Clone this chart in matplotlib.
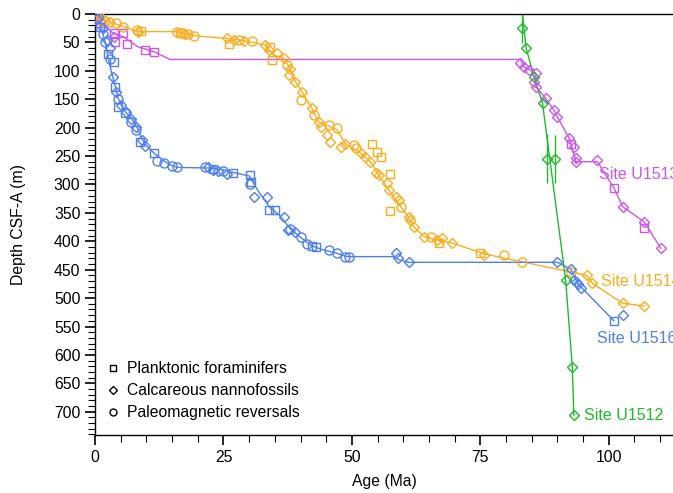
import numpy as np
import matplotlib
matplotlib.use('Agg')
import matplotlib.pyplot as plt
from matplotlib.ticker import MultipleLocator
from matplotlib.lines import Line2D

plt.rcParams['font.family'] = ['Liberation Sans', 'DejaVu Sans']
plt.rcParams['font.size'] = 11.3

# colours per site
c1516 = '#4d7ff2'
c1514 = '#ffac1c'
c1513 = '#cc55ee'
c1512 = '#1fbb2a'

# ---- Site U1516 ----
u1516_line_age = [0, 1, 2, 2.5, 3, 3.5, 4, 4.5, 5.5, 7, 8.2, 9, 10, 11.5, 13, 14.5, 16, 22, 25, 27, 30, 31, 32, 34, 36, 38, 40, 42, 44, 47, 49, 58, 59, 61, 90, 92.6, 94, 101]
u1516_line_depth = [0, 20, 50, 75, 95, 112, 130, 148, 168, 183, 200, 218, 232, 245, 256, 265, 270, 271, 274, 279, 285, 300, 315, 340, 355, 378, 393, 407, 414, 421, 427, 427, 432, 437, 437, 449, 475, 540]
u1516_pf_age = [1, 2.6, 3.6, 3.9, 4.5, 5.8, 8.8, 11.4, 23, 26.8, 30.2, 30.4, 33.8, 35, 42.2, 43, 101]
u1516_pf_depth = [22, 70, 84, 128, 163, 175, 225, 245, 272, 279, 283, 295, 345, 345, 408, 410, 540]
u1516_cn_age = [0.3, 1.5, 2.3, 3, 3.5, 4, 5, 6, 7, 8, 9.1, 9.8, 22, 23, 24, 25.7, 31, 33.5, 36.7, 37.6, 39, 58.5, 59, 61.2, 90, 92.6, 93.2, 93.6, 94, 94.5, 102.8]
u1516_cn_depth = [8, 25, 45, 60, 110, 138, 160, 172, 185, 198, 222, 232, 270, 274, 276, 281, 322, 322, 357, 380, 383, 421, 430, 437, 436, 449, 468, 472, 476, 482, 529]
u1516_pm_age = [0.5, 1.5, 2, 3, 4.5, 7, 8, 12, 13.5, 15, 16, 21.5, 25, 30.2, 38, 40, 41.3, 45.5, 47.1, 48.7, 49.5]
u1516_pm_depth = [5, 35, 50, 80, 150, 190, 205, 258, 262, 268, 270, 270, 276, 300, 378, 393, 404, 415, 421, 427, 427]

# ---- Site U1514 ----
u1514_line_age = [0, 1, 3, 5.5, 8.4, 16, 19, 25.7, 30.9, 33.1, 34.8, 36.7, 38, 39, 40.3, 42.2, 43.5, 45.5, 47.1, 48.7, 51.7, 53.6, 55.2, 57.2, 59.5, 61.4, 62, 64, 66.6, 69.5, 75.7, 83, 92.6, 95.7, 96.8, 102.7, 106.9]
u1514_line_depth = [0, 8, 15, 22, 31, 31, 38, 43, 50, 55, 72, 78, 96, 119, 137, 166, 190, 197, 204, 228, 245, 260, 283, 310, 339, 363, 374, 392, 398, 403, 422, 436, 454, 460, 474, 509, 514]
u1514_pf_age = [1, 9, 16.5, 26, 34.1, 34.4, 53.9, 54.9, 55.6, 57.5, 57.5, 66.9, 75]
u1514_pf_depth = [10, 30, 33, 52, 58, 81, 228, 242, 252, 282, 346, 403, 420]
u1514_cn_age = [1.5, 3, 8.4, 17.5, 25.7, 27, 29, 33.1, 33.8, 35.4, 36.7, 38, 37.7, 39, 40.3, 42.2, 43.5, 43.9, 45.2, 45.8, 47.8, 48.7, 51.7, 52.6, 53.6, 54.6, 55.2, 56.9, 57.2, 58.5, 59.1, 61.1, 61.4, 62, 64, 66.6, 67.6, 69.5, 75.7, 95.7, 96.8, 102.7, 106.9]
u1514_cn_depth = [8, 14, 31, 35, 43, 46, 48, 55, 63, 69, 78, 96, 107, 119, 137, 166, 190, 198, 213, 225, 234, 228, 245, 251, 260, 280, 283, 298, 310, 322, 327, 357, 363, 374, 392, 398, 395, 403, 424, 460, 474, 509, 514]
u1514_pm_age = [0.3, 2, 4, 5.5, 8.1, 16, 17, 18, 19.2, 28, 30.5, 37.4, 40, 42.6, 45.5, 47.1, 50.4, 50.7, 59.5, 65.3, 79.6, 83.2, 92.6]
u1514_pm_depth = [5, 12, 16, 22, 28, 32, 34, 36, 38, 45, 48, 90, 151, 178, 195, 201, 231, 236, 339, 392, 424, 437, 454]

# ---- Site U1513 ----
u1513_line_age = [0, 1, 3.6, 5.5, 8.4, 11.4, 14.6, 82.8, 83.5, 85.8, 85.8, 87.7, 89.3, 90, 92.3, 93.6, 97.8, 101, 102.7, 106.9, 110.1]
u1513_line_depth = [0, 16, 34, 40, 58, 66, 80, 80, 93, 104, 128, 148, 169, 181, 219, 260, 260, 306, 339, 366, 412]
u1513_pf_age = [0.3, 1, 3.6, 5.5, 3.8, 6.2, 9.7, 11.4, 92.6, 101, 106.9]
u1513_pf_depth = [10, 16, 34, 34, 49, 52, 63, 66, 228, 306, 377]
u1513_cn_age = [0, 3.6, 82.8, 83.5, 84.5, 85.8, 85.4, 85.8, 87.7, 89.3, 90, 92.3, 93.2, 93.6, 93.6, 97.8, 102.7, 106.9, 110.1]
u1513_cn_depth = [3, 40, 87, 93, 99, 104, 119, 128, 148, 169, 181, 219, 234, 254, 260, 257, 339, 366, 412]

# ---- Site U1512 ----
u1512_line_age = [83.2, 83.9, 85.4, 87.1, 91.6, 92.9, 93.2]
u1512_line_depth = [0, 59, 110, 157, 468, 621, 706]
u1512_cn_age = [83.2, 83.9, 85.4, 87.1, 88, 89.5, 91.6, 92.9, 93.2]
u1512_cn_depth = [25, 59, 110, 157, 256, 256, 468, 621, 706]
u1512_err_age = [83.2, 88, 89.5]
u1512_err_lo = [2, 211, 213]
u1512_err_hi = [51, 298, 298]

fig = plt.figure(figsize=(6.73, 4.93), dpi=100)
ax = fig.add_axes([0.1412, 0.1176, 0.8588, 0.8540])

mk = dict(fillstyle='none', markeredgewidth=1.0, linestyle='none')

def site(la, ld, col, pf=None, cn=None, pm=None):
    ax.plot(la, ld, color=col, lw=1.0, zorder=2)
    if pf is not None:
        ax.plot(pf[0], pf[1], marker='s', ms=6, color=col, zorder=3, **mk)
    if cn is not None:
        ax.plot(cn[0], cn[1], marker='D', ms=5.5, color=col, zorder=3, **mk)
    if pm is not None:
        ax.plot(pm[0], pm[1], marker='o', ms=6.5, color=col, zorder=3, **mk)

site(u1513_line_age, u1513_line_depth, c1513,
     pf=(u1513_pf_age, u1513_pf_depth), cn=(u1513_cn_age, u1513_cn_depth))
site(u1514_line_age, u1514_line_depth, c1514,
     pf=(u1514_pf_age, u1514_pf_depth), cn=(u1514_cn_age, u1514_cn_depth),
     pm=(u1514_pm_age, u1514_pm_depth))
site(u1516_line_age, u1516_line_depth, c1516,
     pf=(u1516_pf_age, u1516_pf_depth), cn=(u1516_cn_age, u1516_cn_depth),
     pm=(u1516_pm_age, u1516_pm_depth))
site(u1512_line_age, u1512_line_depth, c1512, cn=(u1512_cn_age, u1512_cn_depth))
ax.vlines(u1512_err_age, u1512_err_lo, u1512_err_hi, color=c1512, lw=1.0, zorder=3)

# site labels (cut at the right edge, as in the original)
ax.text(98.1, 282, 'Site U1513', color=c1513, va='center', ha='left', fontsize=11.5)
ax.text(98.5, 470, 'Site U1514', color=c1514, va='center', ha='left', fontsize=11.5)
ax.text(97.7, 571, 'Site U1516', color=c1516, va='center', ha='left', fontsize=11.5)
ax.text(95.2, 706, 'Site U1512', color=c1512, va='center', ha='left', fontsize=11.5)

# legend
handles = [Line2D([], [], marker='s', color='black', ms=5, **mk),
           Line2D([], [], marker='D', color='black', ms=4.5, **mk),
           Line2D([], [], marker='o', color='black', ms=5, **mk)]
labels = ['Planktonic foraminifers', 'Calcareous nannofossils', 'Paleomagnetic reversals']
ax.legend(handles, labels, loc='upper left', bbox_to_anchor=(0.01, 0.19),
          frameon=False, handlelength=0.8, handletextpad=0.5, labelspacing=0.45,
          borderaxespad=0, fontsize=11.3)

ax.set_xlim(0, 112.5)
ax.set_ylim(741, 0)
ax.xaxis.set_major_locator(MultipleLocator(25))
ax.xaxis.set_minor_locator(MultipleLocator(5))
ax.yaxis.set_major_locator(MultipleLocator(50))
ax.yaxis.set_minor_locator(MultipleLocator(10))
ax.tick_params(which='major', direction='out', length=7, width=1.2)
ax.tick_params(which='minor', direction='out', length=5, width=0.8)
ax.spines['right'].set_visible(False)
for s in ['left', 'bottom', 'top']:
    ax.spines[s].set_linewidth(1.0)
ax.set_xlabel('Age (Ma)', labelpad=7)
ax.set_ylabel('Depth CSF-A (m)', labelpad=20)

plt.savefig('out.png', dpi=100)
